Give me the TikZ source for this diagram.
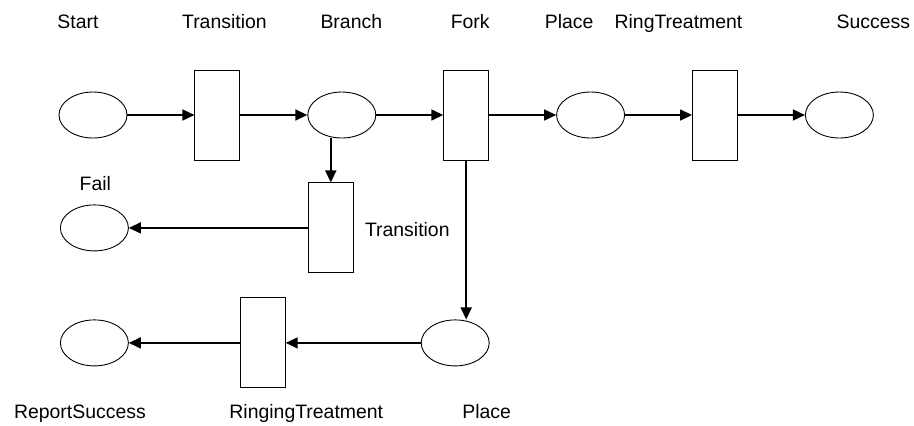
\documentclass[tikz,border=0pt]{standalone}
\usepackage{fontspec}
\setmainfont{Liberation Sans}
\usetikzlibrary{arrows.meta, positioning, calc, shapes.geometric}
\tikzset{
  placenode/.style={
    draw,
    ellipse,
    line width=0.9pt,
    minimum width=68bp,
    minimum height=46bp,
    inner sep=0pt
  },
  transnode/.style={
    draw,
    rectangle,
    line width=0.9pt,
    minimum width=45bp,
    minimum height=90bp,
    inner sep=0pt
  },
  lbl/.style={anchor=base, inner sep=0pt, font=\fontsize{19.5}{22}\selectfont},
  arr/.style={-{Triangle[length=12bp, width=11bp]}, line width=1.6pt}
}

\begin{document}
\begin{tikzpicture}[x=1bp, y=1bp, node distance=67bp]
\useasboundingbox (0,0) rectangle (914,-425);

% Top row
\node[placenode] (start) at (93,-115) {};
\node[transnode, right=of start] (trA) {};
\node[placenode, right=of trA] (branch) {};
\node[transnode, right=of branch] (fork) {};
\node[placenode, right=of fork] (placeA) {};
\node[transnode, right=of placeA] (ring) {};
\node[placenode, right=of ring] (success) {};

\draw[arr] (start) -- (trA);
\draw[arr] (trA) -- (branch);
\draw[arr] (branch) -- (fork);
\draw[arr] (fork) -- (placeA);
\draw[arr] (placeA) -- (ring);
\draw[arr] (ring) -- (success);

% Fail branch
\node[transnode, below=44bp of branch, xshift=-11bp] (trB) {};
\node[placenode, left=179bp of trB] (fail) {};

\draw[arr] (branch.south -| trB) -- (trB.north);
\draw[arr] (trB) -- (fail);

% Lower row
\node[placenode, below=159bp of fork, xshift=-11bp] (placeB) {};
\node[transnode, left=135bp of placeB] (ringing) {};
\node[placenode, left=111bp of ringing] (report) {};

\draw[arr] (fork) -- (fork |- placeB.north);
\draw[arr] (placeB) -- (ringing);
\draw[arr] (ringing) -- (report);

% Labels
\node[lbl] (lStart) at ($(start)+(-15,87)$) {Start};
\node[lbl] (lTrA) at ($(trA)+(7,87)$) {Transition};
\node[lbl] (lBranch) at ($(branch)+(9.5,87)$) {Branch};
\node[lbl] (lFork) at ($(fork)+(4,87)$) {Fork};
\node[lbl] (lPlaceA) at ($(placeA)+(-21.5,87)$) {Place};
\node[lbl] (lRing) at ($(ring)+(-36.5,87)$) {RingTreatment};
\node[lbl] (lSuccess) at ($(success)+(34,87)$) {Success};
\node[lbl] (lFail) at ($(fail)+(1,37.5)$) {Fail};
\node[lbl] (lTrB) at ($(trB)+(76.5,-9)$) {Transition};
\node[lbl] (lReport) at ($(report)+(-14.5,-75.5)$) {ReportSuccess};
\node[lbl] (lRinging) at ($(ringing)+(43.5,-75.5)$) {RingingTreatment};
\node[lbl] (lPlaceB) at ($(placeB)+(31.5,-75.5)$) {Place};

\end{tikzpicture}
\end{document}
